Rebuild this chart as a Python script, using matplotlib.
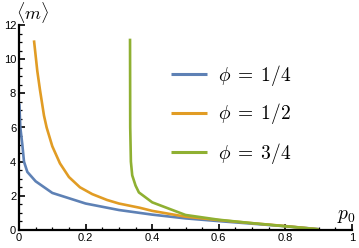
import numpy as np
import matplotlib
matplotlib.use("Agg")
import matplotlib.pyplot as plt
from matplotlib.ticker import MultipleLocator

plt.rcParams["mathtext.fontset"] = "cm"
plt.rcParams["font.family"] = ["Liberation Sans", "DejaVu Sans"]

# values
p_quarter = [0.001, 0.004, 0.01, 0.015, 0.025, 0.05, 0.1, 0.2, 0.3, 0.4, 0.5, 0.6, 0.7, 0.8, 0.9]
m_quarter = [7.4, 6.0, 5.0, 4.0, 3.4, 2.85, 2.17, 1.55, 1.17, 0.9, 0.68, 0.52, 0.37, 0.22, 0.05]

p_half = [0.045, 0.055, 0.063, 0.075, 0.083, 0.1, 0.123, 0.15, 0.183, 0.22, 0.264, 0.3,
          0.363, 0.4, 0.5, 0.6, 0.7, 0.8, 0.9]
m_half = [11.1, 9.3, 8.2, 6.7, 6.0, 4.9, 3.9, 3.1, 2.5, 2.1, 1.76, 1.55,
          1.3, 1.12, 0.78, 0.58, 0.4, 0.23, 0.04]

p_three = [0.3334, 0.334, 0.336, 0.34, 0.35, 0.36, 0.4, 0.5, 0.6, 0.7, 0.8, 0.9]
m_three = [11.2, 6.0, 4.0, 3.2, 2.6, 2.2, 1.62, 0.88, 0.6, 0.4, 0.22, 0.04]

x_ticks = [0, 0.2, 0.4, 0.6, 0.8, 1]
x_tick_labels = ["0", "0.2", "0.4", "0.6", "0.8", "1"]
y_ticks = [0, 2, 4, 6, 8, 10, 12]
y_tick_labels = ["0", "2", "4", "6", "8", "10", "12"]

labels = [r"$\phi \;=\; 1/4$", r"$\phi \;=\; 1/2$", r"$\phi \;=\; 3/4$"]
colors = ["#5E81B5", "#E19C24", "#8FB032"]

fig = plt.figure(figsize=(3.59, 2.48), dpi=100)
ax = fig.add_axes([19 / 359, 18 / 248, 333 / 359, 205 / 248])

series = [(p_quarter, m_quarter), (p_half, m_half), (p_three, m_three)]
for (p, m), lab, c in zip(series, labels, colors):
    ax.plot(p, m, color=c, lw=1.9, label=lab, solid_capstyle="butt")

ax.set_xlim(0, 1)
ax.set_ylim(0, 12)
for side in ["top", "right"]:
    ax.spines[side].set_visible(False)
for side in ["left", "bottom"]:
    ax.spines[side].set_linewidth(1.6)

ax.set_xticks(x_ticks, x_tick_labels)
ax.set_yticks(y_ticks, y_tick_labels)
ax.xaxis.set_minor_locator(MultipleLocator(0.05))
ax.yaxis.set_minor_locator(MultipleLocator(0.5))
ax.tick_params(which="major", direction="in", length=4, width=1.2, labelsize=8, pad=2)
ax.tick_params(which="minor", direction="in", length=2, width=0.9)

fig.text(16 / 359, 1 - 0 / 248, r"$\langle m\rangle$", fontsize=13, va="top", ha="left")
fig.text(337 / 359, 1 - 225 / 248, r"$p_0$", fontsize=14, va="bottom", ha="left")

leg = ax.legend(loc="upper left", bbox_to_anchor=(153 / 359, 1 - 45 / 248),
                bbox_transform=fig.transFigure, frameon=False, fontsize=14,
                handlelength=1.9, handletextpad=0.55, labelspacing=0.72)
for line in leg.get_lines():
    line.set_linewidth(2.2)

fig.savefig("out.png", dpi=100)
